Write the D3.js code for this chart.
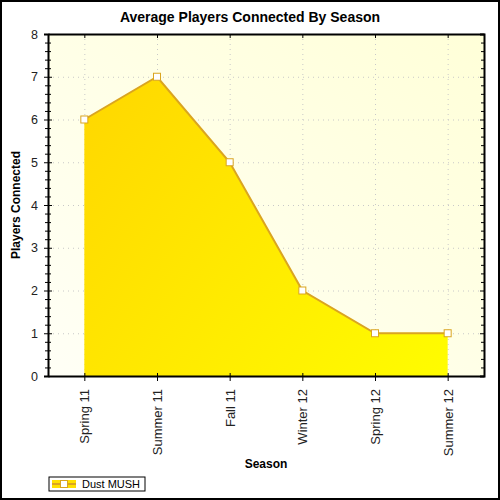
<!DOCTYPE html>
<html>
<head>
<meta charset="utf-8">
<script src="https://cdn.jsdelivr.net/npm/d3@7"></script>
<style>
  body { margin: 0; background: #fff; }
  svg { display: block; }
  text { font-family: "Liberation Sans", Arial, sans-serif; }
</style>
</head>
<body>
<div id="chart"></div>
<script>
// chart data
const seasons = ["Spring 11", "Summer 11", "Fall 11", "Winter 12", "Spring 12", "Summer 12"];
const players = [6, 7, 5, 2, 1, 1];
const yTicks = [0, 1, 2, 3, 4, 5, 6, 7, 8];
const seriesName = "Dust MUSH";

const width = 500, height = 500;
const margin = { top: 34, right: 16, bottom: 124, left: 48 };

const svg = d3.select("#chart")
    .append("svg")
    .attr("width", width)
    .attr("height", height);

const defs = svg.append("defs");

const bg = defs.append("linearGradient")
    .attr("id", "bgGrad")
    .attr("x1", 0).attr("y1", 1).attr("x2", 1).attr("y2", 0);
bg.append("stop").attr("offset", "0%").attr("stop-color", "#fffff6");
bg.append("stop").attr("offset", "100%").attr("stop-color", "#ffffd8");

const x0 = margin.left, x1 = width - margin.right;
const y0 = margin.top, y1 = height - margin.bottom;

const fillGrad = defs.append("linearGradient")
    .attr("id", "areaGrad")
    .attr("gradientUnits", "userSpaceOnUse")
    .attr("x1", x0).attr("y1", y0).attr("x2", x1).attr("y2", y1);
fillGrad.append("stop").attr("offset", "0%").attr("stop-color", "#ffd200");
fillGrad.append("stop").attr("offset", "100%").attr("stop-color", "#ffff00");

const x = d3.scalePoint()
    .domain(seasons)
    .range([x0, x1])
    .padding(0.5);

const y = d3.scaleLinear()
    .domain([0, 8])
    .range([y1, y0]);

// outer frame
svg.append("rect")
    .attr("x", 1).attr("y", 1)
    .attr("width", width - 2).attr("height", height - 2)
    .attr("fill", "#fff")
    .attr("stroke", "#000")
    .attr("stroke-width", 2);

// plot background
svg.append("rect")
    .attr("x", x0).attr("y", y0)
    .attr("width", x1 - x0).attr("height", y1 - y0)
    .attr("fill", "url(#bgGrad)");

// grid
const grid = svg.append("g")
    .attr("stroke", "#c8c8c8")
    .attr("stroke-dasharray", "1,4");
grid.selectAll("line.h")
    .data(yTicks.filter(d => d > 0 && d < 8))
    .join("line")
    .attr("class", "h")
    .attr("x1", x0).attr("x2", x1)
    .attr("y1", d => y(d) + 0.5).attr("y2", d => y(d) + 0.5);
grid.selectAll("line.v")
    .data(seasons)
    .join("line")
    .attr("class", "v")
    .attr("x1", d => x(d) + 0.5).attr("x2", d => x(d) + 0.5)
    .attr("y1", y0).attr("y2", y1);

// area + line
const area = d3.area()
    .x((d, i) => x(seasons[i]))
    .y0(y(0))
    .y1(d => y(d));

const line = d3.line()
    .x((d, i) => x(seasons[i]))
    .y(d => y(d));

svg.append("path")
    .datum(players)
    .attr("d", area)
    .attr("fill", "url(#areaGrad)");

svg.append("path")
    .datum(players)
    .attr("d", line)
    .attr("fill", "none")
    .attr("stroke", "#daa520")
    .attr("stroke-width", 2);

svg.selectAll("rect.marker")
    .data(players)
    .join("rect")
    .attr("class", "marker")
    .attr("x", (d, i) => x(seasons[i]) - 3.5)
    .attr("y", d => y(d) - 3.5)
    .attr("width", 7).attr("height", 7)
    .attr("fill", "#fff")
    .attr("stroke", "#daa520")
    .attr("stroke-width", 1);

// left axis
const yAxis = svg.append("g")
    .attr("transform", `translate(${x0},0)`)
    .call(d3.axisLeft(y).tickValues(yTicks).tickSize(4).tickPadding(6).tickFormat(d3.format("d")));
yAxis.selectAll(".tick line").attr("x1", 4).attr("x2", -4);
yAxis.selectAll("text").attr("font-size", 12.5).attr("fill", "#222");

const minor = d3.range(0, 8.01, 0.2).map(v => Math.round(v * 10) / 10).filter(v => v % 1 !== 0);
yAxis.selectAll("line.minor")
    .data(minor)
    .join("line")
    .attr("class", "minor")
    .attr("x1", -3).attr("x2", 3)
    .attr("y1", d => y(d) + 0.5).attr("y2", d => y(d) + 0.5)
    .attr("stroke", "#000");

// right axis (ticks only)
const yRight = svg.append("g")
    .attr("transform", `translate(${x1},0)`)
    .call(d3.axisLeft(y).tickValues(yTicks).tickSize(4).tickFormat(""));
yRight.selectAll(".tick line").attr("x2", -4);
yRight.selectAll("line.minor")
    .data(minor)
    .join("line")
    .attr("class", "minor")
    .attr("x1", -3).attr("x2", 0)
    .attr("y1", d => y(d) + 0.5).attr("y2", d => y(d) + 0.5)
    .attr("stroke", "#000");

// bottom axis
const xAxis = svg.append("g")
    .attr("transform", `translate(0,${y1})`)
    .call(d3.axisBottom(x).tickSize(5).tickSizeOuter(0));
xAxis.selectAll(".tick line").attr("y1", -3).attr("y2", 5);
xAxis.selectAll("text")
    .attr("font-size", 13)
    .attr("fill", "#222")
    .attr("transform", "rotate(-90)")
    .attr("text-anchor", "end")
    .attr("dy", "0.35em")
    .attr("x", -13)
    .attr("y", 0);

// top axis
const xTop = svg.append("g")
    .attr("transform", `translate(0,${y0})`)
    .call(d3.axisTop(x).tickSize(4).tickSizeOuter(0).tickFormat(""));
xTop.selectAll(".tick line").attr("y2", 4);

svg.selectAll(".domain").attr("stroke", "#000").attr("stroke-width", 2);

// titles
svg.append("text")
    .attr("x", width / 2).attr("y", 22)
    .attr("text-anchor", "middle")
    .attr("font-size", 14)
    .attr("font-weight", "bold")
    .text("Average Players Connected By Season");

svg.append("text")
    .attr("x", (x0 + x1) / 2).attr("y", 468)
    .attr("text-anchor", "middle")
    .attr("font-size", 12)
    .attr("font-weight", "bold")
    .text("Season");

svg.append("text")
    .attr("transform", `translate(20,${(y0 + y1) / 2}) rotate(-90)`)
    .attr("text-anchor", "middle")
    .attr("font-size", 12)
    .attr("font-weight", "bold")
    .text("Players Connected");

// legend
const legend = svg.append("g").attr("transform", "translate(49,477)");
legend.append("rect")
    .attr("width", 96).attr("height", 14)
    .attr("fill", "#fff")
    .attr("stroke", "#000");
legend.append("rect")
    .attr("x", 3).attr("y", 3)
    .attr("width", 24).attr("height", 8)
    .attr("fill", "#ffe000");
legend.append("line")
    .attr("x1", 3).attr("x2", 27)
    .attr("y1", 7).attr("y2", 7)
    .attr("stroke", "#daa520")
    .attr("stroke-width", 2);
legend.append("rect")
    .attr("x", 11.5).attr("y", 3.5)
    .attr("width", 7).attr("height", 7)
    .attr("fill", "#fff")
    .attr("stroke", "#daa520");
legend.append("text")
    .attr("x", 33).attr("y", 11)
    .attr("font-size", 11)
    .text(seriesName);
</script>
</body>
</html>
